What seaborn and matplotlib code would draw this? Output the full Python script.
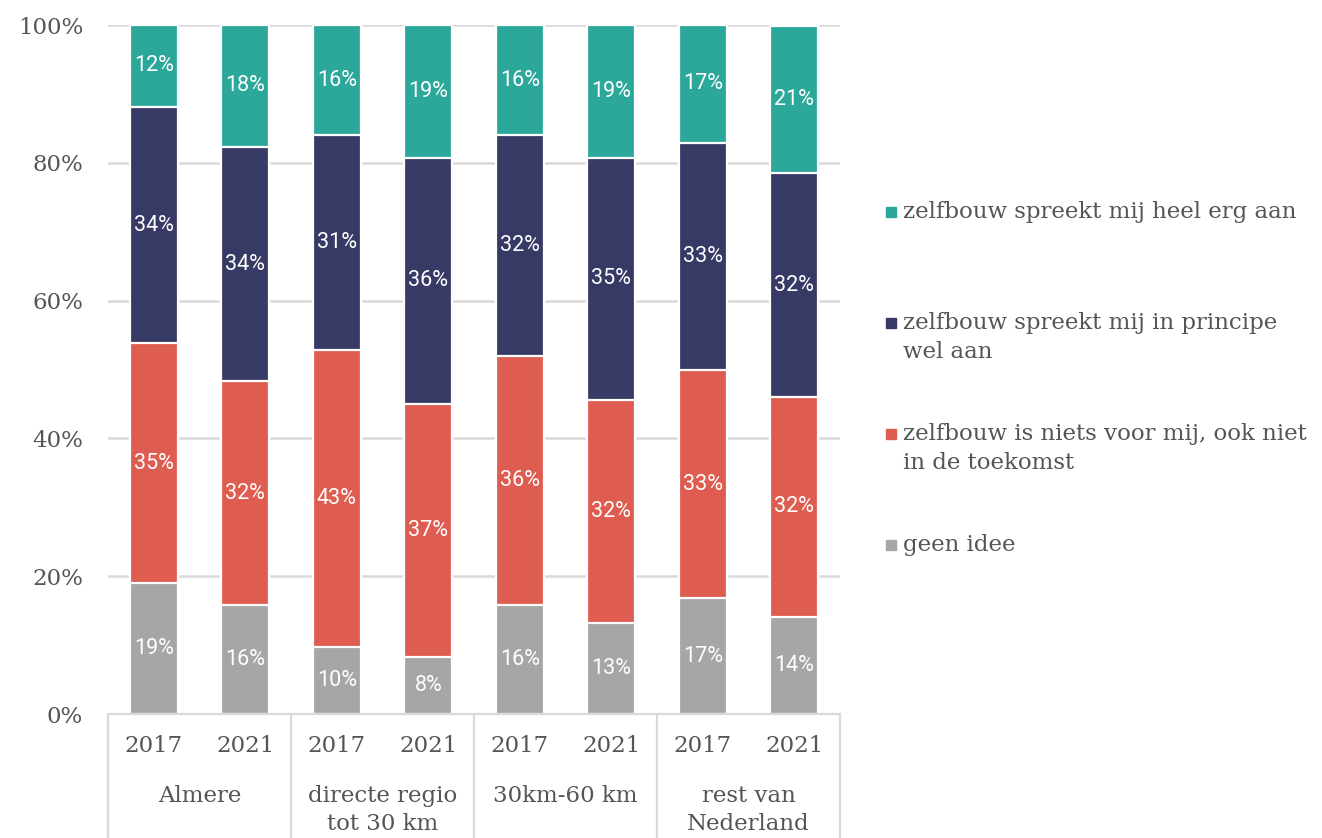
import numpy as np
import pandas as pd
import matplotlib.pyplot as plt
import seaborn as sns
from matplotlib.patches import Rectangle

# Data (percent per segment, bottom to top)
groups = ['Almere', 'directe regio\ntot 30 km', '30km-60 km', 'rest van\nNederland']
years = ['2017', '2021']
geen_idee = [19.0, 15.8, 9.7, 8.3, 15.8, 13.2, 16.8, 14.1]
niets_voor_mij = [34.8, 32.5, 43.1, 36.7, 36.2, 32.4, 33.1, 31.9]
in_principe = [34.3, 34.0, 31.2, 35.7, 32.0, 35.1, 33.0, 32.5]
heel_erg = [11.9, 17.7, 16.0, 19.3, 16.0, 19.3, 17.1, 21.4]

series_names = ['geen idee',
                'zelfbouw is niets voor mij, ook niet\nin de toekomst',
                'zelfbouw spreekt mij in principe\nwel aan',
                'zelfbouw spreekt mij heel erg aan']
series = [geen_idee, niets_voor_mij, in_principe, heel_erg]
colors = ['#A6A6A6', '#DE5C50', '#383A66', '#2CA89A']

cats = [f'{g}|{y}' for g in groups for y in years]

sns.set_style('white')
text_grey = '#555555'
grid_grey = '#D9D9D9'
serif = 'DejaVu Serif'
fs = 16.5

W, H = 1322, 838
fig = plt.figure(figsize=(W / 100, H / 100), dpi=100)
ax = fig.add_axes([108 / W, 1 - 714 / H, (840 - 108) / W, (714 - 25) / H])

# stacked bars: draw cumulative totals from the top layer down
cum = np.cumsum(np.array(series), axis=0)
for k in range(len(series) - 1, -1, -1):
    df = pd.DataFrame({'cat': cats, 'val': cum[k]})
    sns.barplot(data=df, x='cat', y='val', order=cats, color=colors[k],
                saturation=1, width=0.52, edgecolor='white', linewidth=1.6,
                ax=ax, zorder=3)

# value labels
for k, s in enumerate(series):
    bottoms = cum[k] - np.array(s)
    for i, v in enumerate(s):
        ax.text(i, bottoms[i] + v / 2, f'{round(v)}%', ha='center', va='center',
                color='white', fontsize=15.5, family='Roboto', zorder=5)

ax.set_xlim(-0.5, len(cats) - 0.5)
ax.set_ylim(0, 100)
ax.set_yticks(range(0, 101, 20))
ax.set_yticklabels([f'{t}%' for t in range(0, 101, 20)], family=serif,
                   fontsize=fs, color=text_grey)
ax.tick_params(axis='y', length=0, pad=18)
ax.set_xticks([])
ax.set_xlabel('')
ax.set_ylabel('')
ax.yaxis.grid(True, color=grid_grey, linewidth=1.8, zorder=0)
ax.set_axisbelow(True)
for sp in ['top', 'right', 'left']:
    ax.spines[sp].set_visible(False)
ax.spines['bottom'].set_color(grid_grey)
ax.spines['bottom'].set_linewidth(1.6)
ax.spines['bottom'].set_zorder(6)

# multi-level category axis
trans = ax.get_xaxis_transform()
for i, y in enumerate(years * len(groups)):
    ax.text(i, -32 / 689, y, transform=trans, ha='center', va='center',
            family=serif, fontsize=fs, color=text_grey)
for j, g in enumerate(groups):
    for li, line in enumerate(g.split('\n')):
        ax.text(2 * j + 0.5, (-82 - 28 * li) / 689, line, transform=trans,
                ha='center', va='center', family=serif, fontsize=fs,
                color=text_grey)
for b in np.arange(-0.5, len(cats), 2):
    ax.plot([b, b], [0, -130 / 689], transform=trans, color=grid_grey,
            linewidth=1.6, clip_on=False)

# legend, drawn by hand to keep Excel-like spacing
leg_rows = [212, 323, 434, 545]
for row_y, name, col in zip(leg_rows, series_names[::-1], colors[::-1]):
    fig.add_artist(Rectangle((886 / W, 1 - (row_y + 5) / H), 10 / W, 10 / H,
                             transform=fig.transFigure, color=col))
    for li, line in enumerate(name.split('\n')):
        fig.text(903 / W, 1 - (row_y + 29 * li) / H, line, ha='left', va='center',
                 family=serif, fontsize=fs, color=text_grey)

fig.savefig('out.png', dpi=100)
